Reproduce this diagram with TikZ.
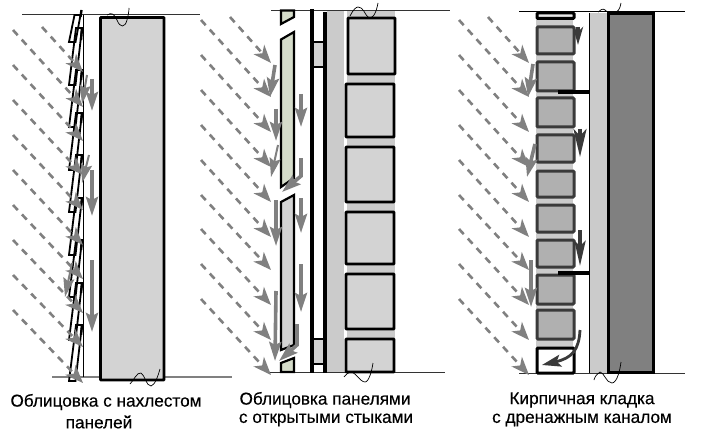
\documentclass[tikz,border=0pt]{standalone}
\usepackage{fontspec}
\setmainfont{Liberation Sans}
\newfontfamily\capfont[FakeBold=0.35]{Liberation Sans}
\usetikzlibrary{arrows.meta}
\definecolor{rain gray}{HTML}{808080}
\definecolor{panel gray}{HTML}{D3D3D3}
\definecolor{joint gray}{HTML}{CBCBCB}
\definecolor{panel green}{HTML}{D5DCCA}
\definecolor{brick gray}{HTML}{B0B0B0}
\definecolor{run dark}{HTML}{3A3A3A}
\newcommand{\rainrows}{
      \draw[rain] (230,17) -- (271,63);
      \draw[rain] (201,20) -- (271,97);
      \draw[rain] (201,55) -- (271,132);
      \draw[rain] (201,90) -- (271,167);
      \draw[rain] (201,125) -- (271,202);
      \draw[rain] (201,160) -- (271,237);
      \draw[rain] (201,195) -- (271,270);
      \draw[rain] (201,229) -- (271,305);
      \draw[rain] (201,264) -- (271,340);
      \draw[rain] (201,299) -- (271,375);
}
\begin{document}
\begin{tikzpicture}[x=1pt,y=-1pt,line join=miter,
    rain/.style={rain gray,line width=2.6pt,dash pattern=on 7pt off 6pt,-{Stealth[length=18pt,width=14pt,inset=5pt]}},
    run/.style={rain gray,line width=3.6pt,-{Stealth[length=19pt,width=12pt,inset=3pt]}},
    thin run/.style={rain gray,line width=2pt,-{Stealth[length=19pt,width=11pt,inset=3pt]}},
    dark run/.style={run dark,line width=3.8pt,-{Stealth[length=25pt,width=11pt,inset=5pt]}},
    shingle/.style={draw=black,line width=1.8pt},
    tick/.style={black,line width=2.4pt},
    level/.style={black!80,line width=1pt},
    low level/.style={rain gray,line width=1.6pt},
    cut/.style={black,line width=0.7pt},
    board/.style={draw=black,line width=2.2pt,fill=panel gray,line join=miter},
    block/.style={draw=black,line width=2.6pt,fill=panel gray,rounded corners=0.5pt},
    brick/.style={draw=run dark,line width=3pt,fill=brick gray,rounded corners=1pt},
    label/.style={font=\capfont\fontsize{17.2}{18}\selectfont,inner sep=0pt,text=black}]
  \useasboundingbox (0,0) rectangle (701,441);
  \fill[white] (0,0) rectangle (701,441);

  % left: lapped panels
  \begin{scope}
      \draw[level] (22,14.5) -- (200,14.5);
      \draw[low level] (52,377) -- (232,377);
      \draw[black,line width=0.7pt] (83,15) -- (83,377);
      \draw[block,line width=2.8pt] (100.5,17.5) rectangle (164,380);
      \draw[shingle] (74.5,15) -- (80.5,15) -- (75.5,42) -- (69,42) -- cycle;
      \draw[shingle] (76,28) -- (82,28) -- (75.5,85) -- (69,85) -- cycle;
      \draw[shingle] (76,70) -- (82,70) -- (75.5,127) -- (69,127) -- cycle;
      \draw[shingle] (76,113) -- (82,113) -- (75.5,170) -- (69,170) -- cycle;
      \draw[shingle] (76,155) -- (82,155) -- (75.5,212) -- (69,212) -- cycle;
      \draw[shingle] (76,198) -- (82,198) -- (75.5,255) -- (69,255) -- cycle;
      \draw[shingle] (76,240) -- (82,240) -- (75.5,297) -- (69,297) -- cycle;
      \draw[shingle] (76,283) -- (82,283) -- (75.5,340) -- (69,340) -- cycle;
      \draw[shingle] (76,325) -- (82,325) -- (75.5,381) -- (69,381) -- cycle;
      \draw[tick] (81.5,10) -- (80.5,17);
      \draw[tick] (82,28) -- (81,40);
      \draw[tick] (82,70) -- (81,80);
      \draw[tick] (82,113) -- (81,123);
      \draw[tick] (82,155) -- (81,165);
      \draw[tick] (82,198) -- (81,208);
      \draw[tick] (82,240) -- (81,250);
      \draw[tick] (82,283) -- (81,293);
      \draw[tick] (82,325) -- (81,335);
      \draw[rain] (42,27) -- (83,72);
      \draw[rain] (13,30) -- (83,107);
      \draw[rain] (13,65) -- (83,141);
      \draw[rain] (13,100) -- (83,175);
      \draw[rain] (13,135) -- (83,210);
      \draw[rain] (13,170) -- (83,245);
      \draw[rain] (13,205) -- (83,279);
      \draw[rain] (13,240) -- (83,313);
      \draw[rain] (13,275) -- (83,347);
      \draw[rain] (13,310) -- (83,383);
      \draw[thin run] (87,75) -- (82,104);
      \draw[run] (92,79) -- (92,111);
      \draw[thin run] (89,155) -- (82,183);
      \draw[run] (92,170) -- (92,216);
      \draw[run] (92,260) -- (92,332);
      \draw[thin run] (72,263) -- (65,297);
      \draw[cut] (107,15) .. controls (112,12) and (114,14) .. (117,20) .. controls (120,28) and (125,28) .. (127,20) .. controls (128,16) and (129,12) .. (129,8);
      \draw[cut] (130,384) .. controls (134,380) and (137,372) .. (141,373) .. controls (145,375) and (146,386) .. (151,386) .. controls (155,385) and (158,376) .. (160,369);
  \end{scope}

  % middle: open joints
  \begin{scope}
      \fill[joint gray] (327,11) rectangle (344,372);
      \fill[joint gray] (347,10) rectangle (395,372);
      \draw[level] (271,10.7) -- (450,10.7);
      \draw[level] (270,372.5) -- (445,372.5);
      \draw[board,fill=panel green] (281,10.5) -- (294,10.5) -- (294,17) -- (281,24) -- cycle;
      \draw[board,fill=panel green] (281,39.5) -- (294,32) -- (294,178) -- (281,187) -- cycle;
      \draw[board] (281,202) -- (294,195) -- (294,345) -- (281,350) -- cycle;
      \draw[board,fill=panel green] (281,363) -- (294,358) -- (294,372) -- (281,372) -- cycle;
      \draw[board,line width=1.6pt] (312,42) rectangle (325,67);
      \draw[board,line width=1.6pt] (312,339) rectangle (325,364);
      \draw[black,line width=3.6pt] (312,9) -- (312,373);
      \draw[black,line width=3.6pt] (325,12) -- (325,373);
      \draw[block] (348,18) rectangle (395,74);
      \draw[block] (346,84) rectangle (394,137);
      \draw[block] (346,147) rectangle (394,202);
      \draw[block] (346,212) rectangle (394,264);
      \draw[block] (346,274) rectangle (394,329);
      \draw[block] (346,339) rectangle (394,372);
      \rainrows
      \draw[run] (275,65) -- (270,97);
      \draw[run] (276,109) -- (276,141);
      \draw[thin run] (278,145) -- (271,177);
      \draw[run] (301,94) -- (301,127);
      \draw[run] (301,158) -- (301,176) -- (282,192);
      \draw[run] (301,198) -- (301,233);
      \draw[run] (301,264) -- (301,312);
      \draw[run] (276,200) -- (276,246);
      \draw[run] (276,291) -- (275,361);
      \draw[run] (297,324) -- (297,345) -- (279,361);
      \draw[cut] (350,16) .. controls (353,10) and (356,7) .. (358,7) .. controls (363,7) and (365,14) .. (367,16) .. controls (369,19) and (372,18) .. (374,15) .. controls (376,12) and (377,8) .. (378,3);
      \draw[cut] (344,377) .. controls (346,375) and (347,373) .. (350,372) .. controls (355,371) and (360,382) .. (365,382) .. controls (369,382) and (372,370) .. (373,363);
  \end{scope}

  % right: brick with drain channel
  \begin{scope}
      \fill[joint gray] (536,14) rectangle (573,355);
      \draw[level,black] (519,11.5) -- (685,11.5);
      \draw[level] (519,373) -- (685,373);
      \draw[brick,draw=black,fill=panel gray!50] (537,13) rectangle (574,18.5);
      \draw[brick] (537,27) rectangle (574,54);
      \draw[brick] (537,62) rectangle (574,91);
      \draw[brick] (537,98) rectangle (574,127);
      \draw[brick] (537,135) rectangle (574,162);
      \draw[brick] (537,171) rectangle (574,197);
      \draw[brick] (537,205) rectangle (574,232);
      \draw[brick] (537,240) rectangle (574,267);
      \draw[brick] (537,275) rectangle (574,304);
      \draw[brick] (537,310) rectangle (574,339);
      \draw[brick,draw=black,fill=white] (537,348) rectangle (574,373);
      \fill[joint gray] (589,13) rectangle (607,373);
      \draw[black,line width=0.8pt] (589,13) -- (589,373);
      \draw[draw=black,line width=3pt,fill=rain gray] (608.5,13.5) rectangle (653,372.5);
      \draw[black,line width=3.2pt] (558,92) -- (589,92);
      \draw[black,line width=3.2pt] (558,273) -- (589,273);
      \begin{scope}[xshift=258pt]
      \rainrows
      \end{scope}
      \draw[run] (533,64) -- (528,97);
      \draw[run] (535,144) -- (527,177);
      \draw[run] (531,260) -- (531,307);
      \draw[dark run,-{Stealth[length=18pt,width=10pt,inset=5pt]}] (578,27) -- (578,45);
      \draw[dark run,-{Stealth[length=28pt,width=13pt,inset=7pt]}] (580,129) -- (580,157);
      \draw[dark run] (580,230) -- (580,266);
      \draw[dark run,line width=2.8pt,-{Stealth[length=19pt,width=12pt,inset=4pt]}] (580,330) .. controls (579,350) and (572,358) .. (542,365);
      \draw[cut] (594,380) .. controls (595,376) and (597,374) .. (600,372) .. controls (604,372) and (606,383) .. (612,383) .. controls (617,383) and (620,370) .. (621,362);
      \draw[cut] (598,12) .. controls (600,10) and (603,8) .. (605,10) .. controls (607,12) and (608,13) .. (612,13) .. controls (618,13) and (620,9) .. (621,3);
  \end{scope}

  \node[label] (capA) at (106,402) {Облицовка с нахлестом};
  \node[label] (capB) at (99,422) {панелей};
  \node[label] (capC) at (325,400) {Облицовка панелями};
  \node[label] (capD) at (326,420) {с открытыми стыками};
  \node[label] (capE) at (582,400) {Кирпичная кладка};
  \node[label] (capF) at (582,420) {с дренажным каналом};
\end{tikzpicture}
\end{document}
